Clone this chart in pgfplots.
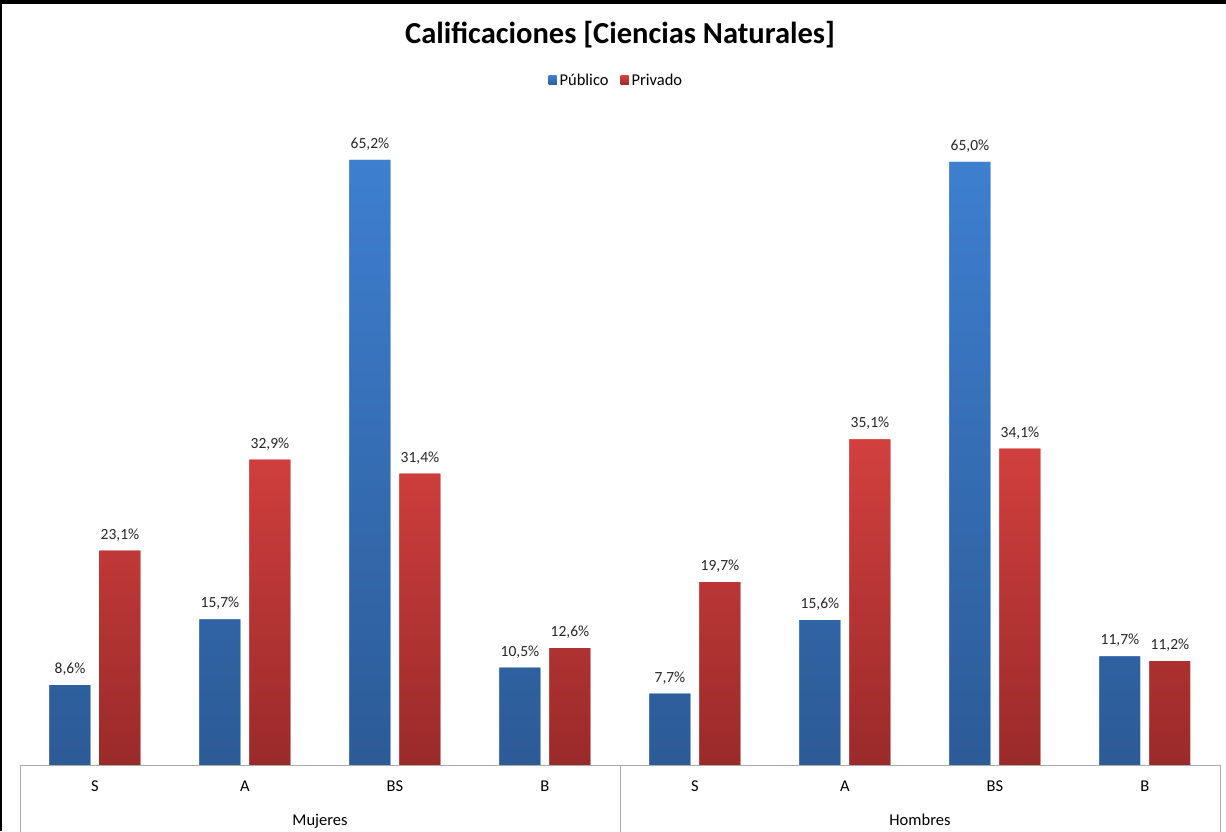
\documentclass[border=0pt]{standalone}
\usepackage{fontspec}
\setmainfont{Carlito}
\usepackage{pgfplots}
\pgfplotsset{compat=1.18}
\definecolor{bluetop}{RGB}{62,127,208}
\definecolor{bluebot}{RGB}{44,91,150}
\definecolor{redtop}{RGB}{210,64,62}
\definecolor{redbot}{RGB}{154,42,42}
\definecolor{axisgray}{RGB}{170,170,170}

\begin{document}
\begin{tikzpicture}[x=1pt,y=1pt]
  \path[use as bounding box] (0,0) rectangle (1226,831);
  % frame of the chart (cut at right and bottom)
  \draw[line width=4pt] (0,829) -- (1226,829);
  \draw[line width=3pt] (0.5,0) -- (0.5,831);
  % title
  \node[font=\fontsize{30.5}{36}\selectfont\bfseries] at (620,796) {Calificaciones [Ciencias Naturales]};

  \begin{axis}[
    at={(20pt,66pt)}, anchor=south west,
    scale only axis, width=1200pt, height=649.6pt,
    xmin=-0.5, xmax=7.5, ymin=0, ymax=70,
    ybar=9pt, bar width=41pt,
    axis line style={draw=none},
    ytick=\empty,
    xtick={0,...,7},
    xticklabels={S,A,BS,B,S,A,BS,B},
    major tick length=0pt,
    xticklabel style={anchor=base, yshift=-26pt, font=\fontsize{16.5}{20}\selectfont},
    clip=false,
    /pgf/number format/assume math mode=true,
    nodes near coords={\pgfmathprintnumber[fixed,fixed zerofill,precision=1,use comma]{\pgfplotspointmeta}\%},
    every node near coord/.append style={font=\fontsize{15.5}{18}\selectfont, text=black!85, yshift=6pt},
    legend style={at={(0.497,1.053)}, anchor=center, draw=none,
      legend columns=2, font=\fontsize{16.5}{20}\selectfont,
      /tikz/every odd column/.append style={column sep=1pt},
      /tikz/every even column/.append style={column sep=10pt}},
    legend image code/.code={\fill[#1] (0pt,-4pt) rectangle (8pt,5pt);},
  ]
    % Publico
    \addplot[draw=none, fill=bluetop, top color=bluetop, bottom color=bluebot]
      coordinates {(0,8.6) (1,15.7) (2,65.2) (3,10.5) (4,7.7) (5,15.6) (6,65.0) (7,11.7)};
    % Privado
    \addplot[draw=none, fill=redtop, top color=redtop, bottom color=redbot]
      coordinates {(0,23.1) (1,32.9) (2,31.4) (3,12.6) (4,19.7) (5,35.1) (6,34.1) (7,11.2)};
    \legend{Público,Privado}

    % category axis box
    \draw[axisgray] (rel axis cs:0,0) -- (rel axis cs:1,0);
    \draw[axisgray] (rel axis cs:0,0) -- ([yshift=-80pt]rel axis cs:0,0);
    \draw[axisgray] (axis cs:3.5,0) -- ([yshift=-80pt]axis cs:3.5,0);
    \draw[axisgray] (rel axis cs:1,0) -- ([yshift=-80pt]rel axis cs:1,0);
    \node[font=\fontsize{16.5}{20}\selectfont, anchor=base] at ([yshift=-60pt]axis cs:1.5,0) {Mujeres};
    \node[font=\fontsize{16.5}{20}\selectfont, anchor=base] at ([yshift=-60pt]axis cs:5.5,0) {Hombres};
  \end{axis}
\end{tikzpicture}
\end{document}
